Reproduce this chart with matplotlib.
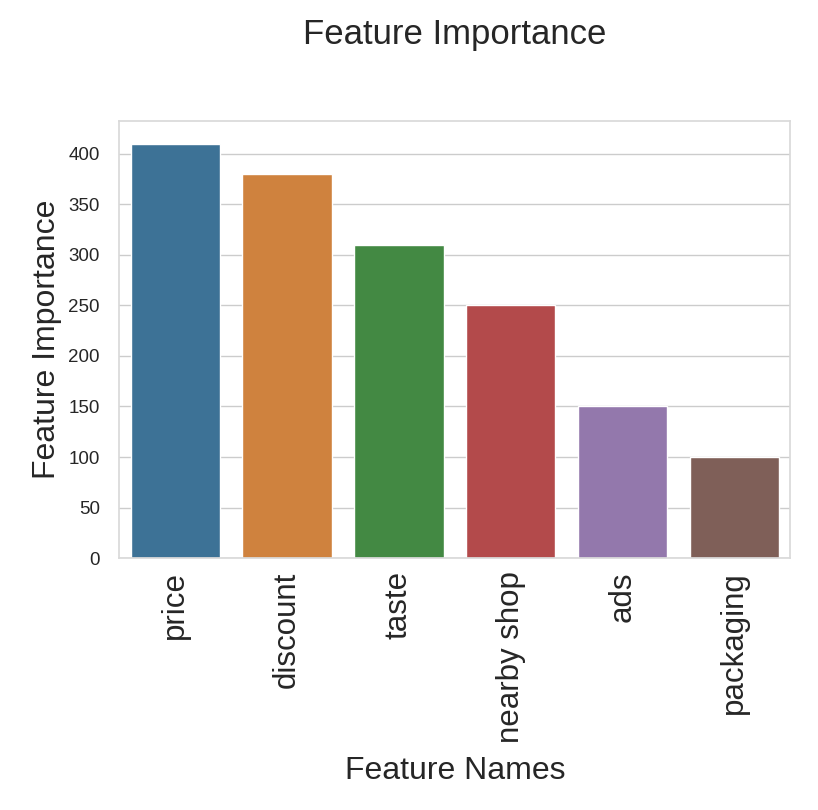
import matplotlib
matplotlib.use("Agg")
import matplotlib.pyplot as plt
import seaborn as sns
import pandas as pd

features = ["price", "discount", "taste", "nearby shop", "ads", "packaging"]
importance = [410, 380, 310, 250, 150, 100]

sns.set_theme(style="whitegrid")
plt.rcParams['font.family'] = ['Liberation Sans', 'DejaVu Sans']

df = pd.DataFrame({"feature": features, "importance": importance})
colors = sns.color_palette("tab10", n_colors=len(features), desat=0.6)

fig = plt.figure(figsize=(8.18, 8.10), dpi=100)
ax = fig.add_axes([0.146, 0.311, 0.82, 0.539])
sns.barplot(data=df, x="feature", y="importance", hue="feature",
            palette=colors, saturation=1, legend=False, ax=ax)

ax.set_title("Feature Importance", fontsize=25, pad=56, color="#262626")
ax.set_xlabel("Feature Names", fontsize=23, color="#262626", labelpad=9)
ax.set_ylabel("Feature Importance", fontsize=23, color="#262626", labelpad=5)
ax.tick_params(axis="x", labelsize=22.5, rotation=90)
ax.tick_params(axis="y", labelsize=13.5, pad=8)
ax.set_ylim(0, 432)
for s in ax.spines.values():
    s.set_color("#d9d9d9")

fig.savefig("out.png", dpi=100)
